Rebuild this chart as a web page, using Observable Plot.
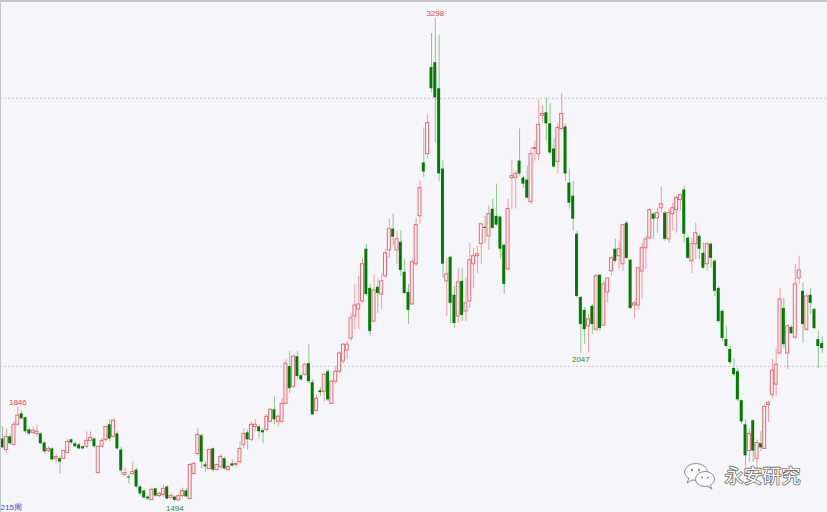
<!DOCTYPE html>
<html>
<head>
<meta charset="utf-8">
<script src="https://cdn.jsdelivr.net/npm/d3@7"></script>
<script src="https://cdn.jsdelivr.net/npm/@observablehq/plot@0.6"></script>
<style>
  html, body { margin: 0; padding: 0; background: #f5f5fa; }
  #wrap { position: relative; width: 827px; height: 512px; overflow: hidden; }
  #wrap svg { display: block; }
  .edge { position: absolute; background: #c4c4cc; }
  #icon { position: absolute; left: 683px; top: 462px; }
</style>
</head>
<body>
<div id="wrap"></div>
<script>
// Weekly OHLC, 215 weeks
const open = [1729,1688,1737,1707,1782,1823,1808,1763,1752,1748,1748,1714,1684,1692,1655,1655,1655,1677,1726,1711,1707,1700,1700,1722,1729,1602,1700,1726,1782,1737,1748,1688,1595,1587,1598,1613,1550,1535,1512,1501,1543,1516,1520,1550,1509,1512,1500,1516,1535,1505,1598,1673,1741,1632,1617,1692,1613,1625,1655,1613,1636,1632,1643,1707,1752,1726,1774,1774,1760,1763,1793,1838,1793,1793,1860,1999,1924,2036,1965,1969,2010,1939,1834,1909,1905,1980,1860,1943,1980,2018,2059,2104,2186,2212,2242,2437,2291,2167,2295,2268,2336,2433,2512,2433,2463,2351,2276,2231,2381,2560,2759,2792,3115,3133,3036,2736,2317,2407,2265,2186,2317,2205,2242,2381,2411,2456,2519,2485,2586,2560,2557,2452,2362,2702,2703,2766,2703,2695,2613,2811,2792,2935,2946,2905,2811,2763,2886,2893,2684,2635,2493,2257,2209,2149,2224,2137,2340,2152,2276,2355,2437,2411,2381,2534,2396,2227,2227,2354,2441,2478,2568,2553,2590,2572,2474,2568,2583,2620,2658,2478,2392,2456,2485,2422,2381,2456,2392,2291,2205,2100,2063,1992,1980,1872,1782,1684,1797,1655,1711,1692,1856,1894,1932,2048,2216,2048,2145,2107,2328,2280,2137,2265,2212,2100,2085];
const high = [1774,1767,1744,1793,1846,1834,1812,1771,1774,1782,1752,1718,1700,1696,1670,1662,1688,1729,1729,1718,1714,1703,1756,1756,1733,1703,1729,1774,1801,1804,1756,1700,1621,1595,1643,1621,1554,1539,1516,1546,1546,1531,1558,1554,1524,1516,1520,1546,1546,1636,1640,1767,1744,1643,1692,1696,1636,1670,1662,1628,1651,1643,1718,1767,1763,1793,1801,1782,1767,1819,1842,1887,1819,1879,2025,2055,2044,2055,1969,2010,2081,1950,1894,1920,1973,1988,1950,1999,2055,2085,2092,2197,2306,2336,2403,2456,2306,2343,2325,2347,2437,2549,2568,2504,2504,2399,2306,2399,2553,2691,2890,2938,3242,3298,3234,2766,2403,2411,2298,2366,2366,2328,2459,2441,2448,2534,2560,2598,2624,2680,2560,2456,2624,2770,2729,2886,2710,2748,2815,2841,2995,2972,3002,2980,2849,2908,3017,2905,2736,2691,2504,2261,2220,2194,2231,2343,2343,2317,2328,2411,2474,2467,2530,2542,2399,2242,2366,2459,2485,2587,2572,2590,2669,2579,2587,2609,2635,2643,2673,2485,2478,2534,2493,2459,2459,2459,2399,2298,2212,2149,2074,2029,1992,1875,1801,1767,1801,1726,1756,1857,1868,2025,2066,2291,2253,2156,2152,2381,2411,2310,2268,2291,2216,2130,2111];
const low = [1692,1673,1707,1700,1778,1801,1748,1741,1745,1737,1707,1673,1677,1647,1636,1598,1651,1673,1707,1696,1688,1688,1692,1718,1696,1598,1696,1718,1718,1733,1688,1595,1587,1561,1595,1546,1516,1505,1500,1498,1512,1509,1512,1501,1503,1494,1497,1509,1509,1501,1595,1666,1617,1606,1613,1606,1610,1617,1613,1610,1625,1625,1636,1692,1688,1718,1756,1729,1711,1756,1790,1782,1774,1786,1857,1898,1917,1950,1943,1962,1935,1816,1830,1887,1868,1868,1857,1935,1973,2010,2025,2092,2137,2137,2235,2261,2111,2160,2197,2212,2328,2403,2448,2381,2336,2268,2156,2227,2373,2530,2703,2774,3021,2834,2691,2328,2186,2160,2141,2160,2167,2167,2216,2291,2347,2381,2456,2433,2512,2523,2399,2268,2354,2587,2587,2710,2665,2624,2605,2766,2766,2905,2841,2792,2740,2718,2878,2691,2587,2504,2253,2047,2081,2050,2119,2130,2130,2149,2235,2336,2384,2362,2354,2399,2212,2179,2209,2250,2362,2474,2474,2497,2572,2467,2459,2504,2497,2579,2459,2399,2347,2399,2399,2362,2354,2366,2261,2160,2092,2066,2006,1962,1868,1782,1625,1643,1643,1617,1681,1692,1790,1879,1887,2044,2066,1988,2119,2100,2306,2085,2130,2194,2137,1992,2048];
const close = [1696,1737,1711,1782,1816,1804,1756,1748,1760,1756,1711,1681,1692,1651,1662,1643,1684,1718,1714,1700,1692,1692,1722,1733,1700,1700,1722,1774,1729,1797,1692,1610,1602,1583,1606,1550,1524,1509,1505,1539,1516,1524,1543,1505,1516,1500,1516,1535,1513,1632,1636,1744,1643,1625,1688,1613,1632,1662,1617,1625,1628,1636,1692,1748,1726,1782,1782,1756,1752,1812,1838,1801,1812,1860,2010,1917,2036,1962,1950,2006,1943,1819,1879,1902,1969,1875,1943,1980,2048,2081,2081,2179,2227,2231,2381,2268,2130,2283,2272,2317,2422,2512,2482,2474,2358,2272,2209,2388,2527,2665,2725,2908,3036,3002,2718,2381,2343,2235,2160,2313,2190,2235,2396,2411,2418,2530,2515,2568,2515,2527,2437,2306,2587,2710,2718,2718,2680,2628,2792,2815,2901,2942,2905,2796,2744,2890,2942,2718,2609,2549,2261,2156,2137,2175,2156,2336,2141,2306,2328,2403,2392,2437,2527,2403,2216,2235,2366,2441,2474,2583,2549,2572,2605,2474,2572,2590,2628,2639,2493,2403,2456,2497,2437,2366,2456,2403,2280,2167,2104,2074,2014,1969,1875,1793,1666,1748,1684,1714,1696,1849,1864,1984,2006,2250,2081,2149,2122,2306,2358,2156,2261,2235,2141,2074,2066];

// Gridline levels and annotated extremes
const gridLevels = [2000, 3000];
const highMarkWeek = [113, 4];
const highMarkValue = [3298, 1846];
const lowMarkWeek = [151, 45];
const lowMarkValue = [2047, 1494];
const periodLabel = ["215周"];
const watermark = ["永安研究"];

const bars = d3.range(open.length).map(i => ({
  i, o: open[i], h: high[i], l: low[i], c: close[i], up: close[i] >= open[i]
}));
const ups = bars.filter(d => d.up);
const downs = bars.filter(d => !d.up);
const bodyTop = d => Math.max(d.o, d.c, Math.min(d.o, d.c) + 4);
const bodyBot = d => Math.min(d.o, d.c);
const hw = 0.39;

const highs = highMarkWeek.map((w, k) => ({w, v: highMarkValue[k]}));
const lows = lowMarkWeek.map((w, k) => ({w, v: lowMarkValue[k]}));

const chart = Plot.plot({
  width: 827,
  height: 512,
  margin: 0,
  style: { background: "#f5f5fa", overflow: "visible" },
  x: { domain: [-0.522, 215.4], axis: null },
  y: { domain: [1454.7, 3365.2], axis: null },
  marks: [
    Plot.ruleY(gridLevels, { stroke: "#c9c9d2", strokeDasharray: "2,2", strokeWidth: 1 }),
    Plot.ruleX(ups, { x: "i", y1: "l", y2: "h", stroke: "#f59aa3", strokeWidth: 1 }),
    Plot.ruleX(downs, { x: "i", y1: "l", y2: "h", stroke: "#8cc88c", strokeWidth: 1 }),
    Plot.rect(ups, { x1: d => d.i - hw, x2: d => d.i + hw, y1: bodyBot, y2: bodyTop,
      fill: "#f5f5fa", stroke: "#f06670", strokeWidth: 1 }),
    Plot.rect(downs, { x1: d => d.i - hw, x2: d => d.i + hw, y1: bodyBot, y2: bodyTop,
      fill: "#007d00" }),
    Plot.text(highs, { x: "w", y: "v", text: d => String(d.v), dy: -5, fill: "#f04048",
      fontSize: 8, fontFamily: "Liberation Sans, Arial, sans-serif" }),
    Plot.text(lows, { x: "w", y: "v", text: d => String(d.v), dy: 6, fill: "#2e8b2e",
      fontSize: 8, fontFamily: "Liberation Sans, Arial, sans-serif" }),
    Plot.text(periodLabel, { frameAnchor: "bottom-left", textAnchor: "start", lineAnchor: "middle",
      dx: 0, dy: -5, fill: "#4848c8", fontSize: 8, fontFamily: "Liberation Sans, Arial, sans-serif" }),
    Plot.text(watermark, { frameAnchor: "bottom-right", textAnchor: "end", lineAnchor: "middle",
      dx: -27, dy: -36, fill: "#ffffff", stroke: "#6a6a6a", strokeWidth: 1.6,
      fontSize: 19, fontFamily: "Noto Sans CJK SC, sans-serif" })
  ]
});

const wrap = document.getElementById("wrap");
wrap.appendChild(chart);

// thin frame edges (top and left) as in the reference
const edgeTop = document.createElement("div");
edgeTop.className = "edge"; edgeTop.style.cssText = "left:0;top:0;width:827px;height:2px;";
const edgeLeft = document.createElement("div");
edgeLeft.className = "edge"; edgeLeft.style.cssText = "left:0;top:0;width:1px;height:512px;";
wrap.appendChild(edgeTop); wrap.appendChild(edgeLeft);

// WeChat-like bubble icon next to the watermark
const icon = document.createElementNS("http://www.w3.org/2000/svg", "svg");
icon.setAttribute("id", "icon");
icon.setAttribute("width", "34");
icon.setAttribute("height", "28");
icon.innerHTML =
  '<ellipse cx="13" cy="10" rx="11.5" ry="8.5" fill="#fff" stroke="#8a8a8a" stroke-width="1"/>' +
  '<path d="M6 16 L4 21 L10 17.5" fill="#fff" stroke="#8a8a8a" stroke-width="1"/>' +
  '<circle cx="9" cy="8" r="1.2" fill="#8a8a8a"/><circle cx="16" cy="8" r="1.2" fill="#8a8a8a"/>' +
  '<ellipse cx="22" cy="17" rx="9.5" ry="7.5" fill="#fff" stroke="#8a8a8a" stroke-width="1"/>' +
  '<path d="M27 23 L29 27 L24 24" fill="#fff" stroke="#8a8a8a" stroke-width="1"/>' +
  '<circle cx="19" cy="15.5" r="1" fill="#8a8a8a"/><circle cx="25" cy="15.5" r="1" fill="#8a8a8a"/>';
wrap.appendChild(icon);
</script>
</body>
</html>
